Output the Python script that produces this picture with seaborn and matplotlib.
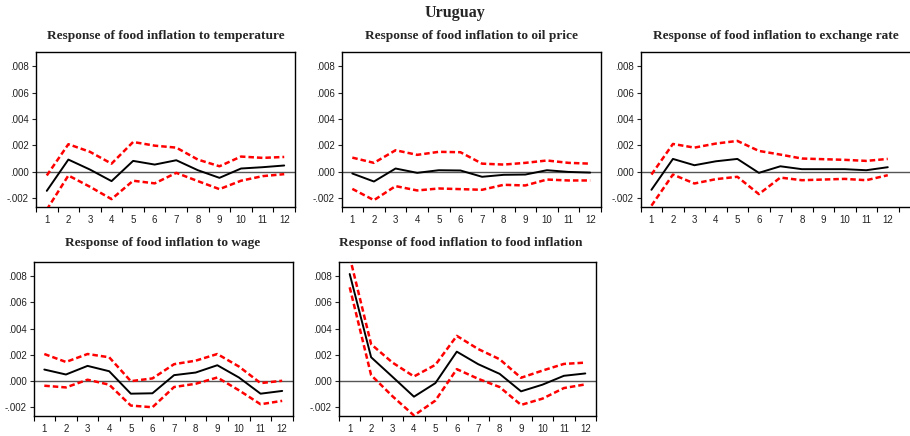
import matplotlib
matplotlib.use("Agg")
import matplotlib.pyplot as plt
import matplotlib.ticker as mticker
import numpy as np
import pandas as pd
import seaborn as sns

# Impulse-response periods
periods = list(range(1, 13))

# Response of food inflation to each shock: point estimate and +/- 2 S.E. bands
temp_resp = [-0.00147, 0.00091, 0.00015, -0.00073, 0.00081, 0.00053, 0.00086, 0.00010, -0.00048, 0.00023, 0.00033, 0.00046]
temp_upper = [-0.00030, 0.00208, 0.00150, 0.00060, 0.00225, 0.00197, 0.00182, 0.00091, 0.00040, 0.00114, 0.00104, 0.00111]
temp_lower = [-0.00290, -0.00030, -0.00116, -0.00210, -0.00070, -0.00090, -0.00010, -0.00073, -0.00134, -0.00070, -0.00035, -0.00020]

oil_resp = [-0.00015, -0.00076, 0.00023, -0.00010, 0.00010, 0.00008, -0.00040, -0.00025, -0.00023, 0.00010, -0.00003, -0.00008]
oil_upper = [0.00106, 0.00066, 0.00162, 0.00127, 0.00150, 0.00147, 0.00060, 0.00053, 0.00066, 0.00084, 0.00066, 0.00060]
oil_lower = [-0.00132, -0.00218, -0.00111, -0.00144, -0.00129, -0.00134, -0.00139, -0.00101, -0.00106, -0.00061, -0.00068, -0.00068]

fx_resp = [-0.00139, 0.00096, 0.00048, 0.00078, 0.00096, -0.00010, 0.00040, 0.00018, 0.00018, 0.00018, 0.00010, 0.00033]
fx_upper = [-0.00023, 0.00210, 0.00182, 0.00213, 0.00233, 0.00157, 0.00129, 0.00099, 0.00094, 0.00089, 0.00081, 0.00096]
fx_lower = [-0.00260, -0.00023, -0.00091, -0.00058, -0.00040, -0.00172, -0.00046, -0.00066, -0.00061, -0.00056, -0.00066, -0.00028]

wage_resp = [0.00086, 0.00048, 0.00114, 0.00073, -0.00099, -0.00096, 0.00043, 0.00063, 0.00119, 0.00025, -0.00099, -0.00078]
wage_upper = [0.00205, 0.00144, 0.00205, 0.00180, -0.00003, 0.00018, 0.00127, 0.00154, 0.00205, 0.00109, -0.00018, 0.00000]
wage_lower = [-0.00038, -0.00051, 0.00008, -0.00030, -0.00190, -0.00203, -0.00048, -0.00023, 0.00025, -0.00073, -0.00180, -0.00154]

food_resp = [0.00818, 0.00180, 0.00030, -0.00122, -0.00018, 0.00223, 0.00127, 0.00053, -0.00081, -0.00030, 0.00038, 0.00056]
food_upper = [0.00950, 0.00280, 0.00139, 0.00033, 0.00122, 0.00344, 0.00243, 0.00165, 0.00023, 0.00078, 0.00129, 0.00139]
food_lower = [0.00716, 0.00043, -0.00119, -0.00266, -0.00152, 0.00089, 0.00015, -0.00048, -0.00185, -0.00137, -0.00056, -0.00028]

panel_titles = [
    "Response of food inflation to temperature",
    "Response of food inflation to oil price",
    "Response of food inflation to exchange rate",
    "Response of food inflation to wage",
    "Response of food inflation to food inflation",
]
y_ticks = [-0.002, 0.000, 0.002, 0.004, 0.006, 0.008]

panels = [
    (temp_resp, temp_upper, temp_lower),
    (oil_resp, oil_upper, oil_lower),
    (fx_resp, fx_upper, fx_lower),
    (wage_resp, wage_upper, wage_lower),
    (food_resp, food_upper, food_lower),
]

sns.set_theme(style="ticks")
plt.rcParams["font.family"] = ["Liberation Sans", "DejaVu Sans"]

W, H = 910, 436
fig = plt.figure(figsize=(W / 100, H / 100), dpi=100)


def px_axes(left, top, right, bottom):
    return fig.add_axes([left / W, 1 - bottom / H, (right - left) / W, (bottom - top) / H])


# (left, top, right, bottom) in pixels, plus x-limits
layout = [
    ((36, 52, 295, 207), (0.5, 12.5)),
    ((341.5, 52, 601, 207), (0.5, 12.5)),
    ((640.7, 52, 920, 207), (0.5, 13.5)),
    ((33.5, 262, 293, 416), (0.5, 12.5)),
    ((339, 262, 596, 416), (0.5, 12.5)),
]
title_centres = [165.5, 471, 776, 163, 461]
title_tops = [36, 36, 36, 243, 243]


def tick_fmt(v, pos):
    s = f"{v:.3f}"
    if s.startswith("-0"):
        return "-" + s[2:]
    if s.startswith("0"):
        return s[1:]
    return s


for i, ((resp, upper, lower), (box, xlim)) in enumerate(zip(panels, layout)):
    ax = px_axes(*box)
    df = pd.DataFrame({"period": periods, "resp": resp, "upper": upper, "lower": lower})
    ax.axhline(0, color="#555555", lw=1.0, zorder=1)
    sns.lineplot(data=df, x="period", y="upper", ax=ax, color="#ff0000", lw=1.8,
                 linestyle=(0, (2.2, 1.2)), zorder=3)
    sns.lineplot(data=df, x="period", y="lower", ax=ax, color="#ff0000", lw=1.8,
                 linestyle=(0, (2.2, 1.2)), zorder=3)
    sns.lineplot(data=df, x="period", y="resp", ax=ax, color="black", lw=1.4, zorder=4)

    ax.set_xlim(*xlim)
    ax.set_ylim(-0.0027, 0.0091)
    ax.set_xlabel("")
    ax.set_ylabel("")
    ax.set_yticks(y_ticks)
    ax.yaxis.set_major_formatter(mticker.FuncFormatter(tick_fmt))
    ax.set_xticks(periods)
    ax.set_xticks(np.arange(0.5, 13.0, 1.0), minor=True)
    ax.tick_params(axis="x", which="major", length=0, pad=6, labelsize=7, labelcolor="#222222")
    ax.tick_params(axis="x", which="minor", length=3.5, width=0.8, direction="out", color="black")
    ax.tick_params(axis="y", which="major", length=3, width=0.8, direction="out",
                   labelsize=7, labelcolor="#222222", pad=2)
    for sp in ax.spines.values():
        sp.set_visible(True)
        sp.set_linewidth(1.0)
        sp.set_color("black")

    fig.text(title_centres[i] / W, 1 - title_tops[i] / H, panel_titles[i],
             ha="center", va="center", fontsize=9.6, fontweight="bold",
             family=["Liberation Serif", "DejaVu Serif"])

fig.text(455 / W, 1 - 13 / H, "Uruguay", ha="center", va="center", fontsize=11.5,
         fontweight="bold", family=["Liberation Serif", "DejaVu Serif"])

fig.savefig("out.png", dpi=100, facecolor="white")
